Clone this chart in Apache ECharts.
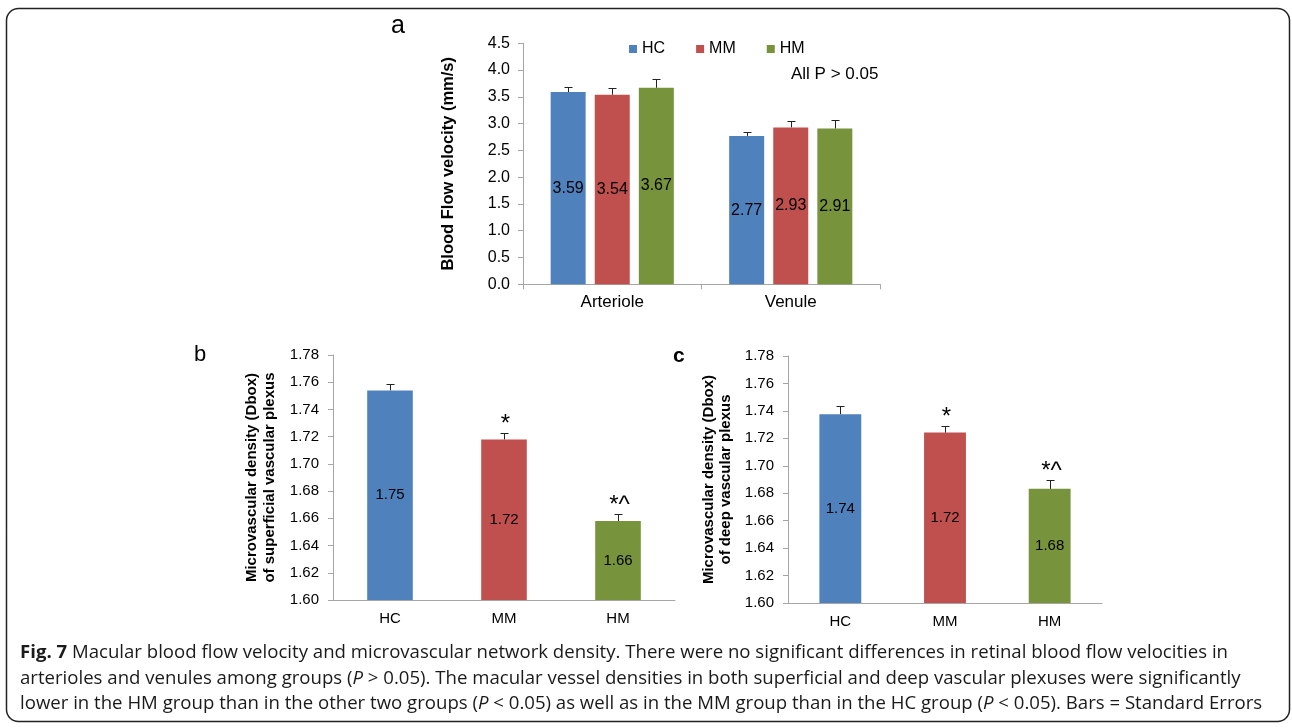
<!DOCTYPE html>
<html>
<head>
<meta charset="utf-8">
<script src="https://cdn.jsdelivr.net/npm/echarts@6/dist/echarts.min.js"></script>
<style>
  html, body { margin: 0; padding: 0; background: #fff; }
  #chart { width: 1292px; height: 728px; }
</style>
</head>
<body>
<div id="chart"></div>
<script>
// ---- data ----
const velocityCategories = ['Arteriole', 'Venule'];
const groupNames = ['HC', 'MM', 'HM'];
const velocityHC = [3.59, 2.77];
const velocityMM = [3.54, 2.93];
const velocityHM = [3.67, 2.91];
const velocitySeHC = [0.09, 0.08];
const velocitySeMM = [0.13, 0.12];
const velocitySeHM = [0.16, 0.15];

const densityCategories = ['HC', 'MM', 'HM'];
const densitySuperficial = [1.754, 1.718, 1.658];
const densitySuperficialSe = [0.0045, 0.0044, 0.005];
const densityDeep = [1.7376, 1.7242, 1.6832];
const densityDeepSe = [0.0062, 0.0051, 0.0065];
const significanceMarks = ['', '*', '*^'];

const captionLines = [
  '{b|Fig. 7} Macular blood flow velocity and microvascular network density. There were no significant differences in retinal blood flow velocities in',
  'arterioles and venules among groups ({i|P} > 0.05). The macular vessel densities in both superficial and deep vascular plexuses were significantly',
  'lower in the HM group than in the other two groups ({i|P} < 0.05) as well as in the MM group than in the HC group ({i|P} < 0.05). Bars = Standard Errors'
];

// ---- styles ----
const colors = ['#4F81BD', '#C0504D', '#77933C'];
const FONT = '"Liberation Sans", Arial, sans-serif';
const CAPFONT = '"Open Sans", sans-serif';
const CAPSIZE = 18.6;
const axisGray = '#a6a6a6';

function errorRenderer(nGroups, groupIdx, barPct, gapPct, marks) {
  return function (params, api) {
    const cat = api.value(0), v = api.value(1), se = api.value(2);
    const band = api.size([1, 0])[0];
    const bw = band * barPct;
    const gap = bw * gapPct;
    const off = (groupIdx - (nGroups - 1) / 2) * (bw + gap);
    const base = api.coord([cat, v]);
    const top = api.coord([cat, v + se]);
    const x = Math.round(base[0] + off) + 0.5;
    const ty = Math.round(top[1]) + 0.5;
    const children = [
      { type: 'line', shape: { x1: x, y1: base[1], x2: x, y2: ty }, style: { stroke: '#222', lineWidth: 1 } },
      { type: 'line', shape: { x1: x - 4, y1: ty, x2: x + 4, y2: ty }, style: { stroke: '#222', lineWidth: 1 } }
    ];
    if (marks && marks[params.dataIndex]) {
      children.push({
        type: 'text', x: x + 1, y: ty - 9,
        style: { text: marks[params.dataIndex], fontSize: 24, fontFamily: FONT, fill: '#000', align: 'center', verticalAlign: 'middle' }
      });
    }
    return { type: 'group', children: children };
  };
}

function errData(values, ses) {
  return values.map((v, i) => [i, v, ses[i]]);
}

const velocityMeans = [velocityHC, velocityMM, velocityHM];
const velocitySes = [velocitySeHC, velocitySeMM, velocitySeHM];

const series = [];
groupNames.forEach((g, gi) => {
  series.push({
    name: g, type: 'bar', xAxisIndex: 0, yAxisIndex: 0,
    data: velocityMeans[gi], barWidth: '19.6%', barGap: '26%',
    itemStyle: { color: colors[gi] },
    label: { show: true, position: 'inside', color: '#000', fontSize: 16, fontFamily: FONT, formatter: p => p.value.toFixed(2) }
  });
});
groupNames.forEach((g, gi) => {
  series.push({
    name: 'err' + g, type: 'custom', xAxisIndex: 0, yAxisIndex: 0, z: 5, clip: false,
    renderItem: errorRenderer(3, gi, 0.196, 0.26, null),
    encode: { x: 0, y: 1 },
    data: errData(velocityMeans[gi], velocitySes[gi])
  });
});
[[densitySuperficial, densitySuperficialSe], [densityDeep, densityDeepSe]].forEach((pair, k) => {
  series.push({
    name: 'density' + k, type: 'bar', xAxisIndex: k + 1, yAxisIndex: k + 1,
    data: pair[0].map((v, i) => ({ value: v, itemStyle: { color: colors[i] } })),
    barWidth: '40%',
    label: { show: true, position: 'inside', color: '#000', fontSize: 15, fontFamily: FONT, formatter: p => p.value.toFixed(2) }
  });
  series.push({
    name: 'densityErr' + k, type: 'custom', xAxisIndex: k + 1, yAxisIndex: k + 1, z: 5, clip: false,
    renderItem: errorRenderer(1, 0, 0.4, 0, significanceMarks),
    encode: { x: 0, y: 1 },
    data: errData(pair[0], pair[1])
  });
});

function xAxisCfg(gridIndex, data, ticks, fontSize, margin) {
  return {
    type: 'category', gridIndex: gridIndex, data: data,
    axisLine: { lineStyle: { color: axisGray, width: 1 } },
    axisTick: { show: ticks, length: 5, lineStyle: { color: axisGray } },
    axisLabel: { color: '#000', fontSize: fontSize, fontFamily: FONT, margin: margin }
  };
}
function yAxisCfg(gridIndex, min, max, interval, digits, fontSize, margin, name, nameGap, nameSize, nameLH) {
  return {
    type: 'value', gridIndex: gridIndex, min: min, max: max, interval: interval,
    axisLine: { show: true, lineStyle: { color: axisGray, width: 1 } },
    axisTick: { show: true, length: 5, lineStyle: { color: axisGray } },
    splitLine: { show: false },
    axisLabel: { color: '#000', fontSize: fontSize, fontFamily: FONT, margin: margin, formatter: v => v.toFixed(digits) },
    name: name, nameLocation: 'middle', nameRotate: 90, nameGap: nameGap,
    nameTextStyle: { color: '#000', fontWeight: 'bold', fontSize: nameSize, fontFamily: FONT, lineHeight: nameLH }
  };
}

const option = {
  animation: false,
  backgroundColor: '#fff',
  grid: [
    { left: 523, top: 43.3, width: 357, height: 241 },
    { left: 333, top: 355, width: 342, height: 245 },
    { left: 788, top: 356, width: 314, height: 247 }
  ],
  xAxis: [
    xAxisCfg(0, velocityCategories, true, 17, 10),
    xAxisCfg(1, densityCategories, false, 15, 11),
    xAxisCfg(2, densityCategories, false, 15, 11)
  ],
  yAxis: [
    yAxisCfg(0, 0, 4.5, 0.5, 1, 16, 13, 'Blood Flow velocity (mm/s)', 66, 16.5, 18),
    yAxisCfg(1, 1.6, 1.78, 0.02, 2, 15, 14, 'Microvascular density (Dbox)\nof superficial vascular plexus', 54, 15, 18),
    yAxisCfg(2, 1.6, 1.78, 0.02, 2, 15, 14, 'Microvascular density (Dbox)\nof deep vascular plexus', 54, 15, 17)
  ],
  legend: {
    data: groupNames, left: 629, top: 41, icon: 'rect', itemWidth: 8, itemHeight: 8, itemGap: 31,
    textStyle: { color: '#000', fontSize: 16, fontFamily: FONT }, padding: 0
  },
  title: [
    { text: 'a', left: 391, top: 14, padding: 0, textStyle: { fontSize: 25, fontWeight: 'normal', color: '#000', fontFamily: FONT } },
    { text: 'b', left: 194, top: 344, padding: 0, textStyle: { fontSize: 22, fontWeight: 'normal', color: '#000', fontFamily: FONT } },
    { text: 'c', left: 673, top: 346, padding: 0, textStyle: { fontSize: 21, fontWeight: 'bold', color: '#000', fontFamily: FONT } },
    { text: 'All P > 0.05', left: 791, top: 66, padding: 0, textStyle: { fontSize: 17, fontWeight: 'normal', color: '#000', fontFamily: FONT } }
  ],
  graphic: [
    { type: 'rect', silent: true, shape: { x: 6.5, y: 8.5, width: 1283, height: 713, r: 12 }, style: { fill: 'none', stroke: '#222', lineWidth: 1.5 } }
  ].concat(captionLines.map((t, i) => ({
    type: 'text', silent: true, x: 20, y: 653 + i * 25.5,
    style: {
      text: t, fill: '#1a1a1a', fontSize: CAPSIZE, fontFamily: CAPFONT, verticalAlign: 'middle',
      rich: {
        b: { fontWeight: 'bold', fontSize: CAPSIZE, fontFamily: CAPFONT, fill: '#1a1a1a' },
        i: { fontStyle: 'italic', fontSize: CAPSIZE, fontFamily: CAPFONT, fill: '#1a1a1a' }
      }
    }
  }))),
  series: series
};

const chart = echarts.init(document.getElementById('chart'), null, { renderer: 'canvas' });
chart.setOption(option);
</script>
</body>
</html>
